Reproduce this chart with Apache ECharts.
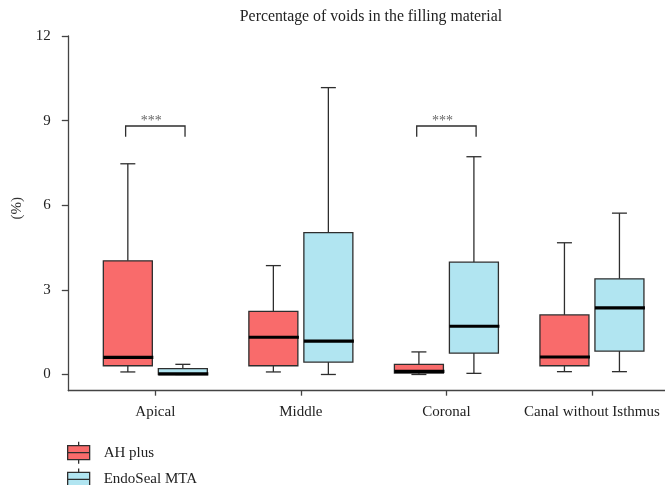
<!DOCTYPE html>
<html>
<head>
<meta charset="utf-8">
<script src="https://cdn.jsdelivr.net/npm/echarts@6/dist/echarts.min.js"></script>
<style>html,body{margin:0;padding:0;background:#fff}#c{width:665px;height:485px}</style>
</head>
<body>
<div id="c"></div>
<script>
// ---- data ----
const categories = ['Apical', 'Middle', 'Coronal', 'Canal without Isthmus'];
// [min, Q1, median, Q3, max]  (%)
const ahPlus = [
  [0.09, 0.31, 0.61, 4.03, 7.47],
  [0.09, 0.31, 1.32, 2.24, 3.86],
  [0.00, 0.05, 0.11, 0.36, 0.80],
  [0.10, 0.31, 0.62, 2.11, 4.67]
];
const endoSeal = [
  [0.00, 0.00, 0.02, 0.21, 0.36],
  [0.00, 0.44, 1.18, 5.03, 10.17],
  [0.04, 0.76, 1.71, 3.98, 7.72],
  [0.10, 0.83, 2.36, 3.39, 5.72]
];
const yTicks = [0, 3, 6, 9, 12];
// significance brackets: [category index, bracket top, leg bottom, label]
const sigCats = [0, 2];
const sigTop = [8.81, 8.81];
const sigLow = [8.43, 8.43];
const sigLabel = ['***', '***'];

// ---- styles ----
const FONT = '"Liberation Serif", "DejaVu Serif", serif';
const BOX_OFFSET = 27.5, BOX_W = 49, CAP_W = 15, BRACKET_HALF = 29.7;
const STROKE = '#2e2e2e';

function boxRenderer(offset, fill) {
  return function (params, api) {
    const i = api.value(0);
    const cx = api.coord([i, 0])[0] + offset;
    const y = [1, 2, 3, 4, 5].map(k => api.coord([i, api.value(k)])[1]);
    const [yMin, yQ1, yMed, yQ3, yMax] = y;
    const ls = { stroke: STROKE, lineWidth: 1.3, fill: null };
    return {
      type: 'group',
      children: [
        { type: 'line', shape: { x1: cx, y1: yQ3, x2: cx, y2: yMax }, style: ls },
        { type: 'line', shape: { x1: cx - CAP_W / 2, y1: yMax, x2: cx + CAP_W / 2, y2: yMax }, style: ls },
        { type: 'line', shape: { x1: cx, y1: yQ1, x2: cx, y2: yMin }, style: ls },
        { type: 'line', shape: { x1: cx - CAP_W / 2, y1: yMin, x2: cx + CAP_W / 2, y2: yMin }, style: ls },
        { type: 'rect', shape: { x: cx - BOX_W / 2, y: yQ3, width: BOX_W, height: Math.max(yQ1 - yQ3, 0.5) },
          style: { fill: fill, stroke: STROKE, lineWidth: 1.3 } },
        { type: 'line', shape: { x1: cx - BOX_W / 2, y1: yMed, x2: cx + BOX_W / 2 + 1, y2: yMed },
          style: { stroke: '#000', lineWidth: 3.2 } }
      ]
    };
  };
}

const AH_COLOR = '#F96B6B', ES_COLOR = '#B1E5F1';
const legendIcon = 'path://M11,0V4M0,4H22V18H0ZM0,11H22M11,18V22';

const option = {
  animation: false,
  backgroundColor: '#fff',
  title: {
    text: 'Percentage of voids in the filling material',
    left: 371, top: 9, textAlign: 'center', padding: 0,
    textStyle: { fontFamily: FONT, fontSize: 15.8, fontWeight: 'normal', color: '#222' }
  },
  legend: {
    orient: 'vertical', left: 67, top: 441, height: 80, padding: 0,
    itemWidth: 22, itemHeight: 22, itemGap: 3.5,
    textStyle: { fontFamily: FONT, fontSize: 15, color: '#222', padding: [0, 0, 0, 9] },
    data: [
      { name: 'AH plus', icon: legendIcon, itemStyle: { color: AH_COLOR, borderColor: STROKE, borderWidth: 1.3 } },
      { name: 'EndoSeal MTA', icon: legendIcon, itemStyle: { color: ES_COLOR, borderColor: STROKE, borderWidth: 1.3 } }
    ]
  },
  grid: { left: 68.3, top: 36, width: 598.6, height: 354.7 },
  xAxis: {
    type: 'value', min: -0.598, max: 3.502,
    splitLine: { show: false },
    axisLine: { show: true, onZero: false, lineStyle: { color: '#444', width: 1.3 } },
    axisTick: { show: true, length: 5, customValues: [0, 1, 2, 3], lineStyle: { color: '#444', width: 1.3 } },
    axisLabel: {
      margin: 14, customValues: [0, 1, 2, 3],
      formatter: v => categories[v] || '',
      fontFamily: FONT, fontSize: 15, color: '#222'
    }
  },
  yAxis: {
    type: 'value', min: -0.575, max: 12,
    name: '(%)', nameLocation: 'middle', nameRotate: 90, nameGap: 41,
    nameTextStyle: { fontFamily: FONT, fontSize: 15, color: '#333', padding: [0, 0, 0, 10] },
    splitLine: { show: false },
    axisLine: { show: true, onZero: false, lineStyle: { color: '#444', width: 1.3 } },
    axisTick: { show: true, length: 6.5, customValues: yTicks, lineStyle: { color: '#444', width: 1.3 } },
    axisLabel: { margin: 17.6, customValues: yTicks, fontFamily: FONT, fontSize: 15, color: '#222' }
  },
  series: [
    {
      name: 'AH plus', type: 'custom', itemStyle: { color: AH_COLOR, borderColor: STROKE, borderWidth: 1.3 },
      renderItem: boxRenderer(-BOX_OFFSET, AH_COLOR),
      encode: { x: 0, y: [1, 2, 3, 4, 5] },
      data: ahPlus.map((d, i) => [i].concat(d))
    },
    {
      name: 'EndoSeal MTA', type: 'custom', itemStyle: { color: ES_COLOR, borderColor: STROKE, borderWidth: 1.3 },
      renderItem: boxRenderer(BOX_OFFSET, ES_COLOR),
      encode: { x: 0, y: [1, 2, 3, 4, 5] },
      data: endoSeal.map((d, i) => [i].concat(d))
    },
    {
      name: 'sig', type: 'custom', silent: true,
      renderItem: function (params, api) {
        const i = api.value(0);
        const top = api.coord([i, api.value(1)]);
        const low = api.coord([i, api.value(2)])[1];
        const x1 = top[0] - BRACKET_HALF, x2 = top[0] + BRACKET_HALF, yT = top[1];
        return {
          type: 'group',
          children: [
            { type: 'polyline', shape: { points: [[x1, low], [x1, yT], [x2, yT], [x2, low]] },
              style: { stroke: STROKE, lineWidth: 1.3, fill: null } },
            { type: 'text', x: top[0] - 4, y: yT + 2,
              style: { text: sigLabel[params.dataIndex], fill: '#666', fontFamily: FONT, fontSize: 14,
                       align: 'center', verticalAlign: 'bottom' } }
          ]
        };
      },
      data: sigCats.map((c, k) => [c, sigTop[k], sigLow[k]])
    }
  ]
};

const chart = echarts.init(document.getElementById('c'), null, { renderer: 'canvas' });
chart.setOption(option);
</script>
</body>
</html>
